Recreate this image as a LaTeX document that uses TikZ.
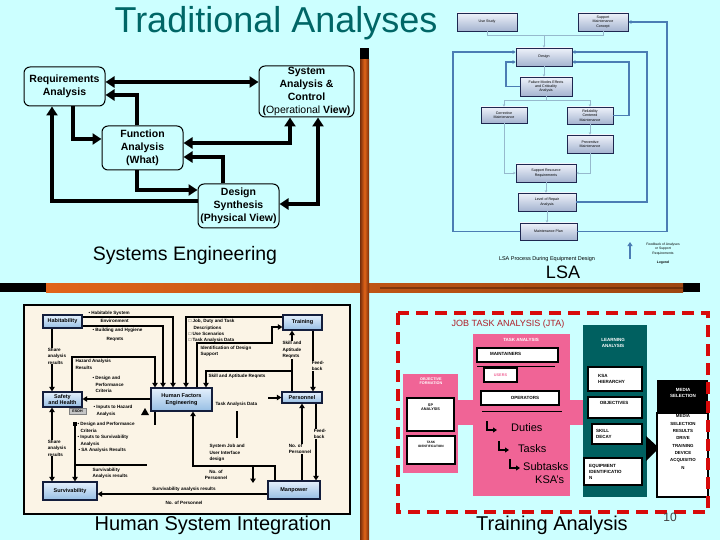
\documentclass[tikz,border=0pt]{standalone}
\usepackage{fontspec}
\setmainfont{Liberation Sans}
\usetikzlibrary{arrows.meta}
\newcommand{\myfs}[2]{\fontsize{#1}{#2}\selectfont}
\definecolor{bgc}{RGB}{204,255,255}
\definecolor{titlec}{RGB}{0,102,102}
\definecolor{hsibg}{RGB}{251,244,230}
\definecolor{hbtop}{RGB}{228,240,252}
\definecolor{hbbot}{RGB}{150,190,228}
\definecolor{hbdraw}{RGB}{20,30,60}
\definecolor{lbtop}{RGB}{238,242,250}
\definecolor{lbbot}{RGB}{165,180,208}
\definecolor{lbdraw}{RGB}{30,40,80}
\definecolor{fbc}{RGB}{75,125,180}
\definecolor{flc}{RGB}{150,185,205}
\definecolor{pinkc}{RGB}{240,100,150}
\definecolor{tealc}{RGB}{0,96,96}
\definecolor{redc}{RGB}{215,10,10}
\definecolor{jtac}{RGB}{175,30,40}
\definecolor{orng}{RGB}{225,100,25}
\definecolor{brwn}{RGB}{120,45,10}
\begin{document}
\begin{tikzpicture}[x=1pt,y=-1pt,
 sebox/.style={draw,line width=1pt,rounded corners=6pt,fill=bgc,align=center,inner sep=0pt,font=\myfs{10.5}{13.2}\bfseries},
 sea/.style={line width=3.5pt,-{Triangle[length=9pt,width=11pt]}},
 seab/.style={line width=3.5pt,{Triangle[length=9pt,width=11pt]}-{Triangle[length=9pt,width=11pt]}},
 bigt/.style={font=\myfs{20}{24},inner sep=0pt},
 hbox/.style={draw=hbdraw,line width=1.3pt,top color=hbtop,bottom color=hbbot,align=center,inner sep=0pt,font=\myfs{5.5}{6.6}\bfseries},
 hl/.style={line width=2pt,-{Triangle[length=4.5pt,width=5.5pt]}},
 hlb/.style={line width=2pt,{Triangle[length=4.5pt,width=5.5pt]}-{Triangle[length=4.5pt,width=5.5pt]}},
 hl0/.style={line width=2pt},
 ht/.style={font=\myfs{4.6}{6.4}\bfseries,align=left,inner sep=0.3pt},
 htf/.style={ht,fill=hsibg},
 lbox/.style={draw=lbdraw,line width=0.7pt,top color=lbtop,bottom color=lbbot,align=center,inner sep=0pt,font=\myfs{3.6}{4.3}},
 lfl/.style={draw=flc,line width=0.7pt,-{Stealth[length=2.5pt,width=2.5pt]}},
 lfl0/.style={draw=flc,line width=0.7pt},
 lfb/.style={draw=fbc,line width=1.8pt,-{Triangle[length=3pt,width=3.5pt]}},
 wbox/.style={draw=black,line width=1.3pt,fill=white,inner sep=0pt},
 tt/.style={font=\myfs{4.5}{6}\bfseries,inner sep=0pt,align=left},
 ttw/.style={tt,text=white,align=center},
 bent/.style={line width=1.6pt,-{Triangle[length=4pt,width=5pt]}},
 bigw/.style={font=\myfs{11}{13},inner sep=0pt,anchor=west}
]
\fill[bgc] (0,0) rectangle (720,540);
\path[use as bounding box] (0,0) rectangle (720,540);

% ---------- bars ----------
\fill[black] (0,283) rectangle (700,292);
\shade[left color=orng, right color=orng!70!black] (46,283) rectangle (683,292);
\fill[brwn!60!black,opacity=0.5] (380,286.5) rectangle (683,288.5);
\fill[black] (360,48) rectangle (369,60);
\shade[left color=brwn, right color=brwn, middle color=orng] (360,60) rectangle (369,540);

% ---------- title ----------
\node[font=\myfs{36}{40},text=titlec,inner sep=0pt] (title) at (276,23) {Traditional Analyses};

% ---------- Systems Engineering ----------
\node[sebox,minimum width=81pt,minimum height=39pt] (req) at (64.5,86.5) {Requirements\\Analysis};
\node[sebox,minimum width=95pt,minimum height=51pt] (sys) at (306.5,91.5) {System\\Analysis \&\\Control\\(\textmd{Operational} View)};
\node[sebox,minimum width=81pt,minimum height=44pt] (fun) at (142.5,148) {Function\\Analysis\\(What)};
\node[sebox,minimum width=81pt,minimum height=44pt] (des) at (238.5,206) {Design\\Synthesis\\(Physical View)};
\draw[seab] (req.east |- 0,82) -- (sys.west |- 0,82);
\draw[sea] (137,0 |- fun.north) |- (req.east |- 0,95);
\draw[sea] (73,0 |- req.south) |- (fun.west |- 0,139);
\draw[seab] (fun.east |- 0,143) -| (290,0 |- sys.south);
\draw[sea] (223,0 |- des.north) |- (fun.east |- 0,157);
\draw[sea] (137,0 |- fun.south) |- (des.west |- 0,190);
\draw[sea] (des.west |- 0,201) -| (52,0 |- req.south);
\draw[seab] (des.east |- 0,204) -| (318,0 |- sys.south);
\node[font=\myfs{19.5}{22},inner sep=0pt] (setitle) at (185,255) {Systems Engineering};

% ---------- LSA ----------
\node[lbox,minimum width=60pt,minimum height=18pt] (use) at (487,22) {Use Study};
\node[lbox,minimum width=50pt,minimum height=18pt] (smc) at (603,22) {Support\\Maintenance\\Concept};
\node[lbox,minimum width=56pt,minimum height=18pt] (dsg) at (544,57) {Design};
\node[lbox,minimum width=52pt,minimum height=19pt] (fmeca) at (546,86.5) {Failure Modes Effects\\and Criticality\\Analysis};
\node[lbox,minimum width=46pt,minimum height=16pt] (cor) at (504,115) {Corrective\\Maintenance};
\node[lbox,minimum width=46pt,minimum height=17pt] (rcm) at (590,115.5) {Reliability\\Centered\\Maintenance};
\node[lbox,minimum width=46pt,minimum height=18pt] (prv) at (590,144) {Preventive\\Maintenance};
\node[lbox,minimum width=60pt,minimum height=18pt] (srr) at (546,173) {Support Resource\\Requirements};
\node[lbox,minimum width=58pt,minimum height=18pt] (lora) at (547,202) {Level of Repair\\Analysis};
\node[lbox,minimum width=57pt,minimum height=17pt] (mp) at (548.5,231.5) {Maintenance Plan};
\coordinate (j1) at (544,35);
\coordinate (j2) at (546,100);
\draw[lfl0] (use.south) |- (j1);
\draw[lfl0] (smc.south) |- (j1);
\draw[lfl] (j1) -- (dsg.north);
\draw[lfl] (dsg.south) -- (dsg.south |- fmeca.north);
\draw[lfl0] (fmeca.south) -- (j2);
\draw[lfl] (j2) -| (cor.north);
\draw[lfl] (j2) -| (rcm.north);
\draw[lfl] (cor.south) |- (srr.west);
\draw[lfl] (rcm.south) -- (prv.north);
\draw[lfl] (prv.south) |- (srr.east);
\draw[lfl] (srr.south) -- (srr.south |- lora.north);
\draw[lfl] (lora.south) -- (lora.south |- mp.north);
\draw[lfb] (fmeca.west) -| (506,62) -- (dsg.west |- 0,62);
\draw[lfb] (rcm.east) -| (629,62) -- (dsg.east |- 0,62);
\draw[lfb] (lora.east) -| (647,52) -- (dsg.east |- 0,52);
\draw[lfb] (mp.east) -| (667,22) -- (smc.east |- 0,22);
\draw[lfb] (mp.west) -| (453,52) -- (dsg.west |- 0,52);
\coordinate (lg1) at (630,259);
\coordinate (lg2) at (630,242);
\draw[draw=fbc,line width=1.5pt,-{Triangle[length=4pt,width=5pt]}] (lg1) -- (lg2);
\node[font=\myfs{3.4}{4.2},align=center,inner sep=0pt] (lgt) at (663,249) {Feedback of Analyses\\or Support\\Requirements};
\node[font=\myfs{3.4}{4.2}\bfseries,inner sep=0pt] (lgn) at (663,263) {Legend};
\node[font=\myfs{5.5}{6.5},inner sep=0pt] (lsacap) at (547,259) {LSA Process During Equipment Design};
\node[font=\myfs{18}{20},inner sep=0pt] (lsat) at (563,272) {LSA};

% ---------- HSI ----------
\draw[line width=1.6pt,fill=hsibg] (24,305) rectangle (350,514);
\node[hbox,minimum width=39pt,minimum height=13pt] (hab) at (62.5,321.5) {Habitability};
\node[hbox,minimum width=39pt,minimum height=15pt] (saf) at (62.5,399.5) {Safety\\and Health};
\node[draw=gray,line width=0.5pt,fill=gray!45,minimum width=17pt,minimum height=6pt,inner sep=0pt,font=\myfs{3.6}{4}\bfseries] (esoh) at (77.5,411.5) {ESOH};
\node[hbox,minimum width=61pt,minimum height=23pt] (hfe) at (181.5,399.5) {Human Factors\\Engineering};
\node[hbox,minimum width=39pt,minimum height=15pt] (trn) at (302.5,322.5) {Training};
\node[hbox,minimum width=40pt,minimum height=11pt] (per) at (302,397.5) {Personnel};
\node[hbox,minimum width=54pt,minimum height=18pt] (sur) at (70,491) {Survivability};
\node[hbox,minimum width=52pt,minimum height=18pt] (man) at (294,490) {Manpower};
\coordinate (sk) at (292,371);
\coordinate (tad) at (268,397.5);
\coordinate (sv1) at (75,424);
\coordinate (sv2) at (75,465);
\coordinate (sv3) at (147,465);
\coordinate (hf1) at (155,425);
\coordinate (st1) at (237,411);
\coordinate (st2) at (237,438);
\coordinate (da1) at (253,467);
\coordinate (da2) at (253,483);
\draw[hl] (hab.east |- 0,317) -| (173,0 |- hfe.north);
\draw[hl] (hab.east |- 0,326) -| (163,0 |- hfe.north);
\draw[hl] (72,0 |- saf.north) |- (155,357) -- (155,0 |- hfe.north);
\draw[hl] (trn.west |- 0,317) -| (186,0 |- hfe.north);
\draw[hl] (197,0 |- hfe.north) |- (272,343) |- (trn.west |- 0,327);
\draw[hl] (292,0 |- per.north) -- (292,0 |- trn.south);
\draw[hl] (sk) -| (206,0 |- hfe.north);
\draw[hl] (313,0 |- trn.south) -- (313,0 |- per.north);
\draw[hl] (tad) -- (per.west);
\draw[hl] (hfe.west |- 0,399) -- (saf.east |- 0,399);
\draw[hl] (52,0 |- hab.south) -- (52,0 |- saf.north);
\draw[hlb] (52,0 |- saf.south) -- (52,0 |- sur.north);
\draw[hl] (sv1) -- (75,0 |- sur.north);
\fill (73,422) rectangle (77,426);
\draw[hl0] (sv2) -- (sv3);
\draw[hl0] (155,0 |- hfe.south) -- (hf1);
\draw[hl] (275,0 |- man.north) |- (193,466) -- (193,0 |- hfe.south);
\draw[hl0] (st1) -- (st2);
\draw[hl] (man.west |- 0,494) -- (sur.east |- 0,494);
\draw[hl] (302,0 |- man.north) -- (302,0 |- per.south);
\draw[hl] (316,0 |- per.south) -- (316,0 |- man.north);
\draw[hl] (da1) -- (da2);
\fill (141,415) -- (149,415) -- (145,408) -- cycle;
\node[ht,anchor=south west] (l1) at (88,316) {• Habitable System};
\node[ht,anchor=north west] (l2) at (100,319) {Environment};
\node[ht,anchor=north west] (l3) at (92,328) {• Building and Hygiene};
\node[ht] (l4) at (115,339) {Reqmts};
\node[htf] (l5) at (57,356) {Share\\analysis\\results};
\node[ht,anchor=north west] (l6) at (75,359) {Hazard Analysis\\Results};
\node[ht,anchor=north west] (l7) at (92,376) {• Design and\\\hspace*{3pt}Performance\\\hspace*{3pt}Criteria};
\node[ht,anchor=north west] (l8) at (93,405) {• Inputs to Hazard\\\hspace*{3pt}Analysis};
\node[ht,anchor=north west,font=\myfs{4.6}{6.3}\bfseries] (l9) at (188,319) {□ Job, Duty and Task\\\hspace*{5pt}Descriptions\\□ Use Scenarios\\□ Task Analysis Data};
\node[ht,anchor=north west] (l10) at (200,345.5) {Identification of Design\\Support};
\node[htf] (l11) at (292,350) {Skill and\\Aptitude\\Reqmts};
\node[htf] (l12) at (318,366) {Feed-\\back};
\node[ht,anchor=north west] (l13) at (208,373.5) {Skill and Aptitude Reqmts};
\node[ht,anchor=north west] (l14) at (215,402) {Task Analysis Data};
\node[ht,anchor=north west] (l15) at (77,422) {• Design and Performance\\\hspace*{3pt}Criteria\\• Inputs to Survivability\\\hspace*{3pt}Analysis\\\hspace*{1pt}• SA Analysis Results};
\node[htf] (l16) at (57,448) {Share\\analysis\\results};
\node[ht,anchor=north west] (l17) at (92,467.5) {Survivability\\Analysis results};
\node[ht,anchor=north west] (l18) at (209,444) {System Job and\\User Interface\\design};
\node[ht,align=center] (l19) at (216,475) {No. of\\Personnel};
\node[htf] (l20) at (300,449) {No. of\\Personnel};
\node[htf] (l21) at (320,434) {Feed-\\back};
\node[ht] (l22) at (184,489) {Survivability analysis results};
\node[ht] (l23) at (184,503) {No. of Personnel};
\node[bigt] (hsit) at (213,525) {Human System Integration};

% ---------- Training Analysis ----------
\fill[pinkc] (473,334) rectangle (570,496);
\fill[pinkc] (403,374) rectangle (458,473);
\fill[pinkc] (456,400) rectangle (475,425);
\fill[pinkc] (568,400) rectangle (585,425);
\fill[tealc] (583,325) rectangle (647,497);
\fill[black] (646,436) -- (659,448) -- (646,461) -- cycle;
\fill[black] (657,380) rectangle (708,413);
\node[wbox,minimum width=51pt,minimum height=84pt] (med) at (682.5,455) {};
\node[font=\myfs{9}{11},text=jtac,inner sep=0pt] (jta) at (508,324) {JOB TASK ANALYSIS (JTA)};
\node[ttw] (tah) at (521,340) {TASK ANALYSIS};
\node[wbox,minimum width=81pt,minimum height=14pt] (mnt) at (517.5,355) {};
\node[tt,anchor=west] (mntt) at (490,354) {MAINTAINERS};
\draw[line width=0.8pt] (477,366) -- (555,366);
\node[wbox,minimum width=33pt,minimum height=14pt] (usr) at (500.5,375) {};
\node[tt,text=pinkc,font=\myfs{3.8}{4.6}\bfseries] (usrt) at (500.5,375) {USERS};
\node[wbox,minimum width=78pt,minimum height=14pt] (opr) at (520,398) {};
\node[tt] (oprt) at (525,398) {OPERATORS};
\draw[line width=0.8pt] (482,411) -- (562,411);
\draw[bent] (487,421) |- (497,430);
\draw[bent] (499,441) |- (509,450);
\draw[bent] (510,459) |- (520,468);
\node[bigw] (dut) at (511,428) {Duties};
\node[bigw] (tsk) at (518,448.5) {Tasks};
\node[bigw] (sub) at (523,466.5) {Subtasks};
\node[bigw] (ksas) at (535,479.5) {KSA’s};
\node[ttw,font=\myfs{3.8}{4.6}\bfseries] (ofh) at (431,381) {OBJECTIVE\\FORMATION};
\node[wbox,minimum width=47pt,minimum height=33pt] (spa) at (430.5,414.5) {};
\node[tt,font=\myfs{3.8}{4.6}\bfseries,align=center] (spat) at (430.5,407) {SP\\ANALYSIS};
\node[wbox,minimum width=48pt,minimum height=28pt] (tid) at (431,450) {};
\node[tt,font=\myfs{3.2}{4}\bfseries,align=center] (tidt) at (431,444) {TASK\\IDENTIFICATION};
\node[ttw] (lah) at (613,343) {LEARNING\\ANALYSIS};
\node[wbox,minimum width=54pt,minimum height=24pt] (ksa) at (615,379) {};
\node[tt,anchor=west] (ksat) at (598,379) {KSA\\HIERARCHY};
\node[wbox,minimum width=54pt,minimum height=21pt] (obj) at (615,407.5) {};
\node[tt] (objt) at (614,403) {OBJECTIVES};
\node[wbox,minimum width=50pt,minimum height=20pt] (skd) at (617,434) {};
\node[tt,anchor=west] (skdt) at (596,434) {SKILL\\DECAY};
\node[wbox,minimum width=58pt,minimum height=27pt] (eqp) at (613,471.5) {};
\node[tt,anchor=west] (eqpt) at (589,471.5) {EQUIPMENT\\IDENTIFICATIO\\N};
\node[ttw] (mdh) at (683,393) {MEDIA\\SELECTION};
\node[tt,align=center,font=\myfs{4.4}{7.3}\bfseries] (mdt) at (683,442) {MEDIA\\SELECTION\\RESULTS\\DRIVE\\TRAINING\\DEVICE\\ACQUISITIO\\N};
\draw[redc,line width=3.5pt,dash pattern=on 12pt off 7pt] (398,313) rectangle (708,512);
\node[bigt] (tat) at (552,525) {Training Analysis};
\node[font=\myfs{12}{14},text=black!75,inner sep=0pt] (pg) at (670,517) {10};
\end{tikzpicture}
\end{document}
